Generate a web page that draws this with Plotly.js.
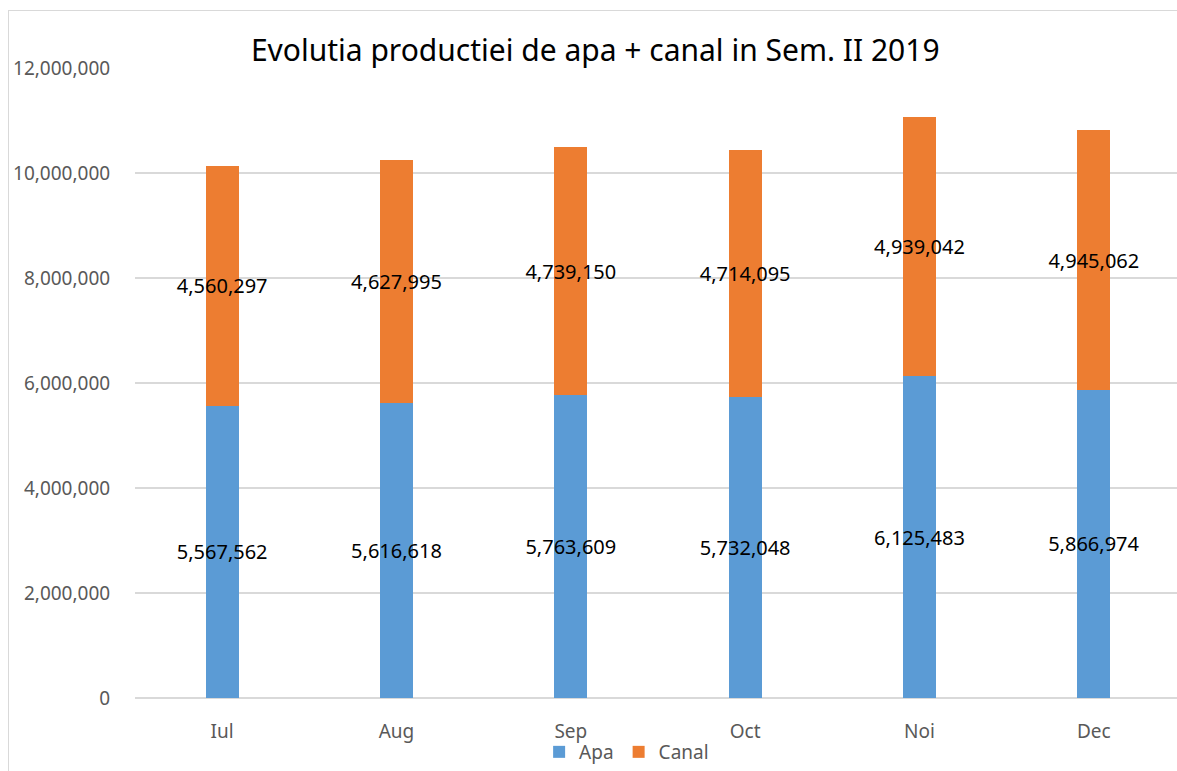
<!DOCTYPE html>
<html>
<head>
<meta charset="utf-8">
<script src="https://cdn.plot.ly/plotly-3.0.1.min.js"></script>
<style>
  html, body { margin: 0; padding: 0; background: #fff; overflow: hidden; }
  #frame { position: absolute; left: 8px; top: 10px; width: 1300px; height: 900px;
           border-left: 1px solid #d9d9d9; border-top: 1px solid #d9d9d9; }
  #chart { position: absolute; left: 0; top: 0; width: 1181px; height: 771px; }
</style>
</head>
<body>
<div id="frame"></div>
<div id="chart"></div>
<script>
'use strict'

var months = ['Iul', 'Aug', 'Sep', 'Oct', 'Noi', 'Dec'];
var apa = [5567562, 5616618, 5763609, 5732048, 6125483, 5866974];
var canal = [4560297, 4627995, 4739150, 4714095, 4939042, 4945062];
var yTicks = [0, 2000000, 4000000, 6000000, 8000000, 10000000, 12000000];

var fmt = function (v) { return v.toLocaleString('en-US'); };

var Apa = {
    type: 'bar',
    name: 'Apa',
    x: months,
    y: apa,
    text: apa.map(fmt),
    textposition: 'inside',
    insidetextanchor: 'middle',
    textangle: 0,
    constraintext: 'none',
    cliponaxis: false,
    textfont: {family: 'Noto Sans', size: 20, color: '#000'},
    marker: {color: '#5b9bd5'},
    hoverinfo: 'none'
};

var Canal = {
    type: 'bar',
    name: 'Canal',
    x: months,
    y: canal,
    text: canal.map(fmt),
    textposition: 'inside',
    insidetextanchor: 'middle',
    textangle: 0,
    constraintext: 'none',
    cliponaxis: false,
    textfont: {family: 'Noto Sans', size: 20, color: '#000'},
    marker: {color: '#ed7d31'},
    hoverinfo: 'none'
};

var layout = {
    width: 1181,
    height: 771,
    margin: {l: 135, r: 0, t: 68, b: 67},
    barmode: 'stack',
    bargap: 0.81,
    uniformtext: {mode: 'show', minsize: 20},
    font: {family: 'Noto Sans', color: '#595959'},
    title: {
        text: 'Evolutia productiei de apa + canal in Sem. II 2019',
        font: {family: 'Noto Sans', size: 30, color: '#000'},
        xref: 'container', x: 0.504, xanchor: 'center',
        yref: 'container', y: 0.935, yanchor: 'middle'
    },
    xaxis: {
        ticks: 'outside',
        ticklen: 16,
        tickcolor: 'rgba(0,0,0,0)',
        tickfont: {size: 19, color: '#595959'},
        showline: false,
        showgrid: false
    },
    yaxis: {
        range: [0, 12000000],
        tickvals: yTicks,
        ticktext: yTicks.map(fmt),
        ticks: 'outside',
        ticklen: 20,
        tickcolor: 'rgba(0,0,0,0)',
        tickfont: {size: 19, color: '#595959'},
        gridcolor: '#d9d9d9',
        gridwidth: 1.5,
        zeroline: true,
        zerolinecolor: '#d9d9d9',
        zerolinewidth: 2
    },
    showlegend: true,
    legend: {
        orientation: 'h',
        x: 0.47, xanchor: 'center',
        y: -0.086, yanchor: 'middle',
        font: {size: 19, color: '#595959'},
        itemwidth: 30,
        traceorder: 'normal'
    },
    paper_bgcolor: 'rgba(0,0,0,0)',
    plot_bgcolor: 'rgba(0,0,0,0)'
};

Plotly.newPlot('chart', [Apa, Canal], layout, {displayModeBar: false, staticPlot: true});
</script>
</body>
</html>
